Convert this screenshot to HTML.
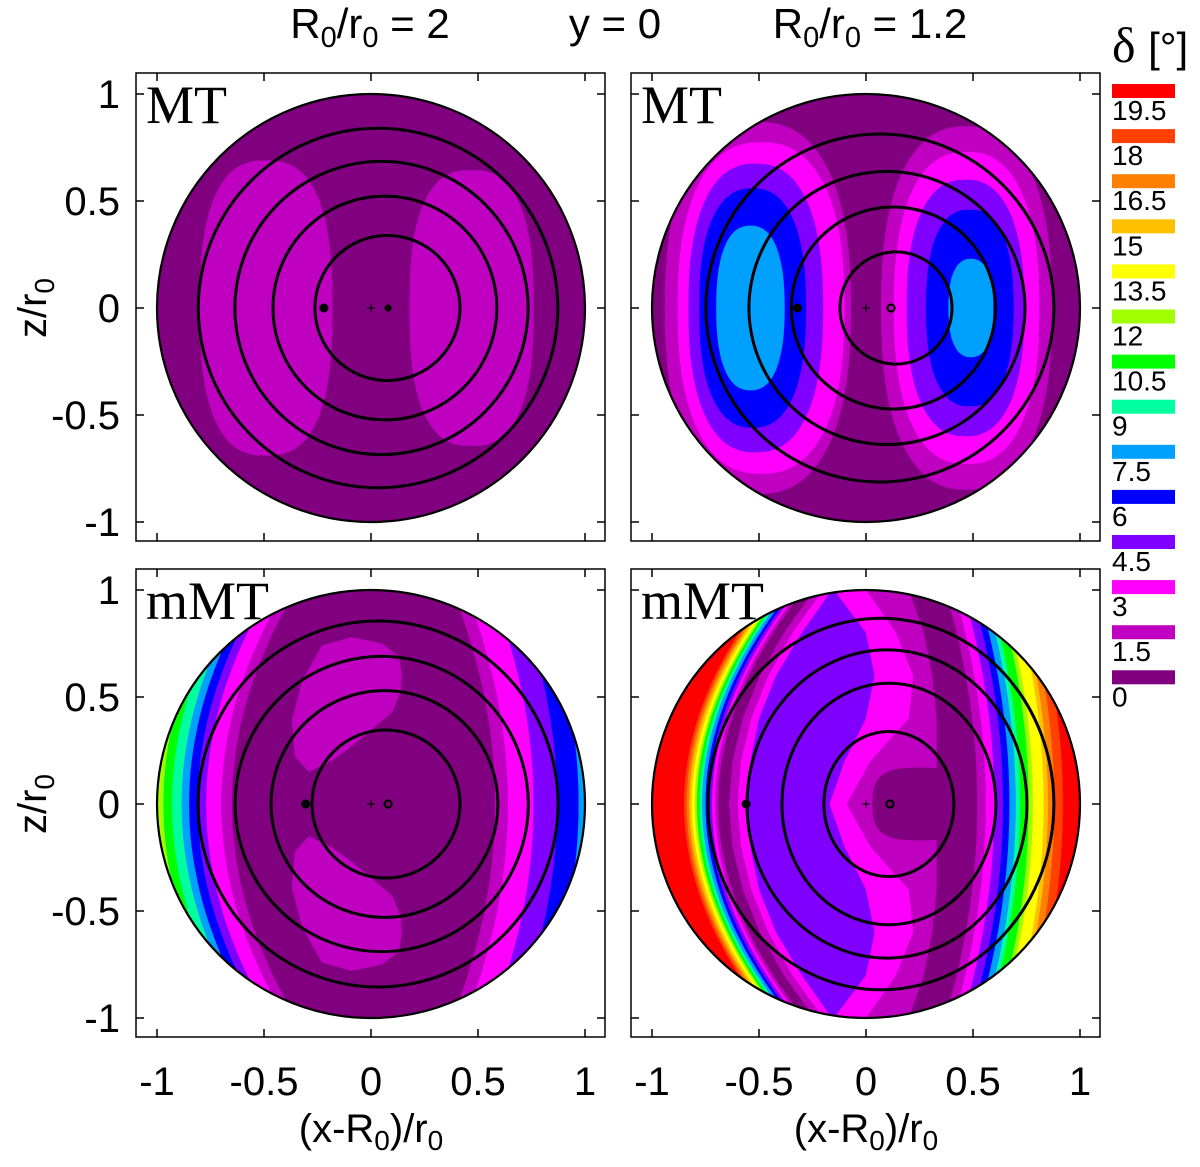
<!DOCTYPE html>
<html><head><meta charset="utf-8"><style>
html,body{margin:0;padding:0;background:#fff;}
</style></head><body>
<svg id="chart" xmlns="http://www.w3.org/2000/svg" width="1200" height="1162" viewBox="0 0 1200 1162" font-family="Liberation Sans, sans-serif">
<g id="frames"></g>
<text x="370" y="38" font-size="42" text-anchor="middle">R<tspan font-size="29" dy="9">0</tspan><tspan dy="-9">/r</tspan><tspan font-size="29" dy="9">0</tspan><tspan dy="-9"> = 2</tspan></text>
<text x="615" y="38" font-size="42" text-anchor="middle">y = 0</text>
<text x="870" y="38" font-size="42" text-anchor="middle">R<tspan font-size="29" dy="9">0</tspan><tspan dy="-9">/r</tspan><tspan font-size="29" dy="9">0</tspan><tspan dy="-9"> = 1.2</tspan></text>
<text x="1112" y="62" font-size="50" style="font-family:'Liberation Serif',serif">δ <tspan style="font-family:'Liberation Sans',sans-serif" font-size="42">[°]</tspan></text>
<text transform="translate(46,308) rotate(-90)" font-size="40" text-anchor="middle">z/r<tspan font-size="28" dy="8">0</tspan></text>
<text transform="translate(46,804) rotate(-90)" font-size="40" text-anchor="middle">z/r<tspan font-size="28" dy="8">0</tspan></text>
<text x="371" y="1142" font-size="40" text-anchor="middle">(x-R<tspan font-size="28" dy="8">0</tspan><tspan dy="-8">)/r</tspan><tspan font-size="28" dy="8">0</tspan></text>
<text x="866" y="1142" font-size="40" text-anchor="middle">(x-R<tspan font-size="28" dy="8">0</tspan><tspan dy="-8">)/r</tspan><tspan font-size="28" dy="8">0</tspan></text>
</svg>
<script>
const NS="http://www.w3.org/2000/svg";
// ---- data ----
const levelLabels=["19.5","18","16.5","15","13.5","12","10.5","9","7.5","6","4.5","3","1.5","0"];
const levelColors=["#ff0000","#ff4000","#ff8000","#ffc000","#ffff00","#a0ff00","#00ff00","#00ffa0","#00a0ff","#0000ff","#8000ff","#ff00ff","#c000c0","#800080"];
const xTicks=[-1,-0.5,0,0.5,1];
const yTicks=[1,0.5,0,-0.5,-1];
const xTickLabels=["-1","-0.5","0","0.5","1"];
const yTickLabels=["1","0.5","0","-0.5","-1"];
const panelNames=["mt-r2","mt-r12","mmt-r2","mmt-r12"];
const panelLabels=["MT","MT","mMT","mMT"];
// flux circles per panel: [centerX, radiusX, radiusY]
const circlesTL=[[0.033,0.84,0.84],[0.049,0.685,0.685],[0.065,0.523,0.523],[0.077,0.339,0.339]];
const circlesTR=[[0.065,0.813,0.813],[0.098,0.645,0.638],[0.128,0.477,0.472],[0.14,0.262,0.262]];
const circlesBL=[[0.033,0.841,0.855],[0.05,0.685,0.69],[0.063,0.53,0.53],[0.07,0.346,0.346]];
const circlesBR=[[0.07,0.808,0.868],[0.098,0.654,0.72],[0.107,0.5,0.564],[0.107,0.304,0.339]];
// markers: filled dot x, open marker x
const markersX=[[-0.22,0.08],[-0.32,0.117],[-0.305,0.08],[-0.56,0.112]];
// TL blobs: [level, cx, rx, ry]
const blobsTL=[[12,-0.49,0.31,0.69],[12,0.47,0.29,0.645]];
// TR nested groups: [level, cx, rx, ry]
const blobsTR=[[12,-0.505,0.435,0.87],[11,-0.49,0.39,0.775],[10,-0.515,0.315,0.675],[9,-0.53,0.25,0.56],[8,-0.54,0.16,0.385],
 [12,0.47,0.40,0.85],[11,0.47,0.34,0.73],[10,0.465,0.275,0.6],[9,0.485,0.205,0.46],[8,0.49,0.105,0.23]];
// BL bands: [level, leftX, rightX]
const bandsBL=[[6,-0.97,1.5],[7,-0.93,1.5],[8,-0.885,1.5],[9,-0.85,0.97],[10,-0.81,0.87],[11,-0.77,0.76],[12,-0.70,0.64],[13,-0.65,0.58]];
// BR bands
const bandsBR=[[1,-0.85,0.92],[2,-0.838,0.88],[3,-0.826,0.85],[4,-0.814,0.83],[5,-0.80,0.78],[6,-0.79,0.76],[7,-0.778,0.72],[8,-0.766,0.70],[9,-0.75,0.67],[10,-0.735,0.64],[11,-0.72,0.60],[12,-0.705,0.56],[13,-0.69,0.52]];
// BL S-shaped blob (upper), mirrored for lower: [x,y]
const sBlobBL=[[-0.09,0.78],[0.05,0.75],[0.13,0.69],[0.145,0.6],[0.14,0.53],[0.10,0.43],[-0.07,0.285],[-0.17,0.21],[-0.29,0.15],[-0.355,0.22],[-0.37,0.39],[-0.32,0.58],[-0.23,0.74]];
// BR inner regions at y = 1,.8,.6,.4,.2,0 (mirrored)
const innerY=[1,0.8,0.6,0.4,0.2,0];
const innerBR=[
 [12,[-0.24,-0.384,-0.496,-0.576,-0.624,-0.64],[0.2,0.27,0.31,0.33,0.33,0.33]],
 [11,[-0.2,-0.344,-0.456,-0.536,-0.584,-0.6],[0.0,0.14,0.22,0.2,0.02,-0.09]],
 [10,[-0.16,-0.30,-0.42,-0.50,-0.54,-0.56],[-0.15,0.0,0.04,0.0,-0.1,-0.17]]
];
// ---- layout ----
const S=214;
const panels=[{x0:371,y0:308,fx:136,fy:73},{x0:866,y0:308,fx:631,fy:73},{x0:371,y0:804,fx:136,fy:569},{x0:866,y0:804,fx:631,fy:569}];
const FW=469,FH=468;
const svg=document.getElementById('chart');
function el(tag,attrs,parent){const e=document.createElementNS(NS,tag);for(const k in attrs)e.setAttribute(k,attrs[k]);(parent||svg).appendChild(e);return e;}
function ptsStr(p,P){return p.map(q=>(P.x0+q[0]*S).toFixed(1)+","+(P.y0-q[1]*S).toFixed(1)).join(" ");}
function superEll(cx,cy,rx,ry,n){const o=[];for(let i=0;i<72;i++){const t=i/72*2*Math.PI,c=Math.cos(t),s=Math.sin(t);o.push([cx+rx*Math.sign(c)*Math.pow(Math.abs(c),2/n),cy+ry*Math.sign(s)*Math.pow(Math.abs(s),2/n)]);}return o;}
function bandPts(xl,xr,cl,cr){const L=[],R=[];for(let i=0;i<=40;i++){const y=-1.05+i*2.1/40;L.push([xl+cl*y*y,y]);R.push([xr-cr*y*y,y]);}return L.concat(R.reverse());}
function innerPts(Lx,Rx){const L=[],R=[];const ys=innerY.concat(innerY.slice(0,-1).reverse().map(v=>-v));const lx=Lx.concat(Lx.slice(0,-1).reverse());const rx=Rx.concat(Rx.slice(0,-1).reverse());for(let i=0;i<ys.length;i++){L.push([lx[i],ys[i]]);R.push([rx[i],ys[i]]);}return L.concat(R.reverse());}

panels.forEach((P,pi)=>{
 const g=el('g',{});
 
 
 const cp=el('clipPath',{id:'clip'+pi},g);
 el('circle',{cx:P.x0,cy:P.y0,r:S},cp);
 const fill=el('g',{'clip-path':'url(#clip'+pi+')'},g);
 
 
 function poly(pts,lv){const p=el('polygon',{points:ptsStr(pts,P),fill:levelColors[lv]},fill);}
 let base=13; if(pi===2)base=5; if(pi===3)base=0;
 el('rect',{x:P.x0-S,y:P.y0-S,width:2*S,height:2*S,fill:levelColors[base]},fill);
 if(pi===0){blobsTL.forEach(b=>poly(superEll(b[1],0,b[2],b[3],2.6),b[0]));}
 if(pi===1){blobsTR.forEach(b=>poly(superEll(b[1],0,b[2],b[3],2.4),b[0]));}
 if(pi===2){bandsBL.forEach(b=>poly(bandPts(b[1],b[2],0.3,0.2),b[0]));
   poly(sBlobBL,12); poly(sBlobBL.map(q=>[q[0],-q[1]]),12);}
 if(pi===3){bandsBR.forEach(b=>poly(bandPts(b[1],b[2],0.4,0.15),b[0]));
   innerBR.forEach(r=>poly(innerPts(r[1],r[2]),r[0]));
   poly(superEll(0.25,0,0.22,0.17,3),13);}
 const circ=[circlesTL,circlesTR,circlesBL,circlesBR][pi];
 circ.forEach((c,ci)=>{const e=el('ellipse',{cx:P.x0+c[0]*S,cy:P.y0,rx:c[1]*S,ry:c[2]*S,fill:'none',stroke:'#000','stroke-width':3},g);
   
   });
 const outer=el('circle',{cx:P.x0,cy:P.y0,r:S,fill:'none',stroke:'#000','stroke-width':2.2},g);
 
 
 const m=markersX[pi];
 const d=el('circle',{cx:P.x0+m[0]*S,cy:P.y0,r:4.5,fill:'#000'},g);
 
 
 const o=el('circle',{cx:P.x0+m[1]*S,cy:P.y0,r:pi===0?2.5:3.5,fill:pi===0?'#000':'none',stroke:'#000','stroke-width':2.2},g);
 
 
 const pl=el('path',{d:`M${P.x0-4},${P.y0}h8M${P.x0},${P.y0-4}v8`,stroke:'#000','stroke-width':1},g);
 
 
 const fr=el('rect',{x:P.fx,y:P.fy,width:FW,height:FH,fill:'none',stroke:'#000','stroke-width':1.5},g);
 
 
 xTicks.forEach((t,i)=>{const x=P.x0+t*S;
   const tk=el('path',{d:`M${x},${P.fy+FH}v-8M${x},${P.fy}v8`,stroke:'#000','stroke-width':1.5},g);
   
   
   if(pi>=2){const tx=el('text',{x:x,y:1095,'font-size':40,'text-anchor':'middle'},g);tx.textContent=xTickLabels[i];
     
     }});
 yTicks.forEach((t,i)=>{const y=P.y0-t*S;
   const tk=el('path',{d:`M${P.fx},${y}h8M${P.fx+FW},${y}h-8`,stroke:'#000','stroke-width':1.5},g);
   
   
   if(pi%2===0){const tx=el('text',{x:120,y:y+14,'font-size':40,'text-anchor':'end'},g);tx.textContent=yTickLabels[i];
     
     }});
 const lb=el('text',{x:P.fx+10,y:P.fy+50,'font-size':54,style:"font-family:'Liberation Serif',serif"},g);
 lb.textContent=panelLabels[pi];
 
 
});
const cb=el('g',{});


levelLabels.forEach((lab,i)=>{const y=84+i*45.1;
 const r=el('rect',{x:1112,y:y,width:63,height:14,fill:levelColors[i]},cb);
 
 
 const t=el('text',{x:1112,y:y+36,'font-size':28},cb);t.textContent=lab;
 
 
});
</script>
</body></html>
